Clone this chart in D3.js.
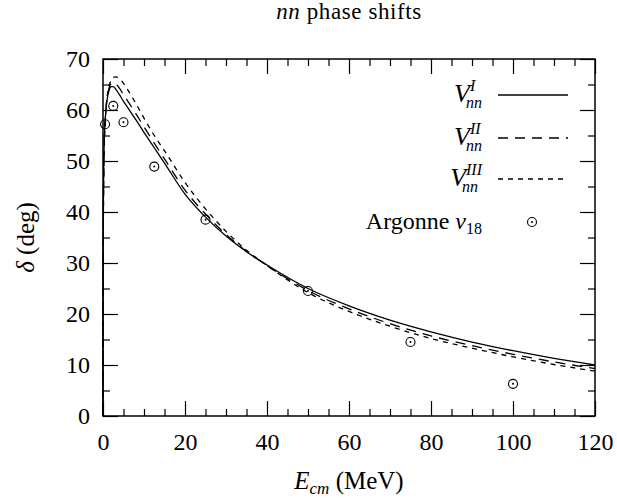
<!DOCTYPE html>
<html>
<head>
<meta charset="utf-8">
<script src="https://cdn.jsdelivr.net/npm/d3@7"></script>
<style>
  body { margin: 0; background: #fff; }
  text { font-family: "Liberation Serif", "DejaVu Serif", serif; fill: #000; }
</style>
</head>
<body>
<div id="chart"></div>
<script>
const energy = [0, 0.02, 0.05, 0.1, 0.2, 0.35, 0.5, 0.75, 1, 1.5, 2, 2.5, 3, 4, 5, 6, 8, 10, 12.5, 15, 20, 25, 30, 35, 40, 50, 60, 70, 80, 90, 100, 110, 120];

// phase shifts (deg)
const vnnI   = [0, 20, 33, 42, 50, 55, 57.5, 60.3, 62, 63.9, 64.6, 64.6, 64.2, 63, 61.7, 60.5, 58.1, 55.6, 52.6, 49.6, 43.5, 39, 35.3, 32.2, 29.6, 25, 21.6, 18.8, 16.5, 14.5, 12.8, 11.3, 10.0];
const vnnII  = [0, 19, 32, 41, 49.5, 55, 57.5, 60.5, 62.3, 64.4, 65.2, 65.4, 65.2, 64.3, 63, 61.8, 59.3, 56.7, 53.5, 50.4, 44.3, 39.6, 35.6, 32.3, 29.5, 24.6, 21, 18.1, 15.7, 13.8, 12.1, 10.6, 9.3];
const vnnIII = [0, 18, 30, 39, 48, 54, 57, 60.5, 62.6, 64.8, 65.9, 66.4, 66.5, 66.2, 65.2, 64, 61.3, 58.4, 55, 52, 45.8, 40.6, 36.2, 32.5, 29.5, 24.2, 20.5, 17.6, 15.2, 13.3, 11.6, 10.1, 8.8];

// Argonne v18 points
const argE     = [0.5, 2.5, 5, 12.5, 25, 50, 75, 100];
const argDelta = [57.2, 60.8, 57.6, 48.9, 38.5, 24.5, 14.5, 6.3];

const xTicks = [0, 20, 40, 60, 80, 100, 120];
const yTicks = [0, 10, 20, 30, 40, 50, 60, 70];
const legendSup = ["I", "II", "III"];

const margin = {top: 59, right: 22, bottom: 84, left: 103},
      W = 617, H = 500,
      width = W - margin.left - margin.right,
      height = H - margin.top - margin.bottom;

const svgRoot = d3.select("#chart").append("svg")
    .attr("width", W)
    .attr("height", H);

const svg = svgRoot.append("g")
    .attr("transform", `translate(${margin.left},${margin.top})`);

const x = d3.scaleLinear().domain([0, 120]).range([0, width]);
const y = d3.scaleLinear().domain([0, 70]).range([height, 0]);

const xMinor = d3.range(0, 121, 5).filter(v => v % 20 !== 0);
const yMinor = d3.range(0, 71, 5).filter(v => v % 10 !== 0);

// axes, ticks pointing inside
function styleAxis(g) {
    g.select(".domain").remove();
    g.selectAll("line").attr("stroke", "#000").attr("stroke-width", 1.2);
    g.selectAll("text").attr("font-size", 24).attr("font-family", "Liberation Serif, serif");
}

svg.append("g").attr("transform", `translate(0,${height})`)
    .call(d3.axisBottom(x).tickValues(xTicks).tickSize(-15).tickPadding(17))
    .call(styleAxis);
svg.append("g").attr("transform", `translate(0,${height})`)
    .call(d3.axisBottom(x).tickValues(xMinor).tickSize(-7).tickFormat(""))
    .call(styleAxis);
svg.append("g")
    .call(d3.axisTop(x).tickValues(xTicks).tickSize(-15).tickFormat(""))
    .call(styleAxis);
svg.append("g")
    .call(d3.axisTop(x).tickValues(xMinor).tickSize(-7).tickFormat(""))
    .call(styleAxis);

svg.append("g")
    .call(d3.axisLeft(y).tickValues(yTicks).tickSize(-15).tickPadding(13))
    .call(styleAxis);
svg.append("g")
    .call(d3.axisLeft(y).tickValues(yMinor).tickSize(-7).tickFormat(""))
    .call(styleAxis);
svg.append("g").attr("transform", `translate(${width},0)`)
    .call(d3.axisRight(y).tickValues(yTicks).tickSize(-15).tickFormat(""))
    .call(styleAxis);
svg.append("g").attr("transform", `translate(${width},0)`)
    .call(d3.axisRight(y).tickValues(yMinor).tickSize(-7).tickFormat(""))
    .call(styleAxis);

// frame
svg.append("rect")
    .attr("width", width)
    .attr("height", height)
    .attr("fill", "none")
    .attr("stroke", "#000")
    .attr("stroke-width", 1.5);

// curves
const series = [
    {values: vnnI, dash: null},
    {values: vnnII, dash: "10,7"},
    {values: vnnIII, dash: "5,5"}
];

const line = d3.line()
    .x(d => x(d[0]))
    .y(d => y(d[1]))
    .curve(d3.curveMonotoneX);

series.forEach(s => {
    svg.append("path")
        .datum(energy.map((e, i) => [e, s.values[i]]))
        .attr("fill", "none")
        .attr("stroke", "#000")
        .attr("stroke-width", 1.3)
        .attr("stroke-dasharray", s.dash)
        .attr("d", line);
});

// Argonne points
function marker(g, cx, cy) {
    g.append("circle").attr("cx", cx).attr("cy", cy).attr("r", 4.5)
        .attr("fill", "none").attr("stroke", "#000").attr("stroke-width", 1.1);
    g.append("circle").attr("cx", cx).attr("cy", cy).attr("r", 1)
        .attr("fill", "#000");
}
argE.forEach((e, i) => marker(svg, x(e), y(argDelta[i])));

// legend
const legRight = 482 - margin.left, lineX0 = 498 - margin.left, lineX1 = 568 - margin.left;
const legY = [95, 138, 179, 222].map(v => v - margin.top);

series.forEach((s, i) => {
    // one text per entry: V, superscript, then subscript pulled back under it
    const t = svg.append("text")
        .attr("y", legY[i] + 7)
        .attr("font-size", 26).attr("font-style", "italic");
    t.append("tspan").text("V");
    const sup = t.append("tspan").attr("font-size", 16).attr("dy", -11).text(legendSup[i]);
    const supW = sup.node().getComputedTextLength();
    const sub = t.append("tspan").attr("font-size", 16).attr("dy", 17)
        .attr("dx", -(supW + 4)).text("nn");
    const subW = sub.node().getComputedTextLength();
    const vW = t.select("tspan").node().getComputedTextLength();
    const right = vW + Math.max(supW, subW - 4);
    t.attr("x", legRight - right);
    svg.append("line")
        .attr("x1", lineX0).attr("x2", lineX1)
        .attr("y1", legY[i]).attr("y2", legY[i])
        .attr("stroke", "#000").attr("stroke-width", 1.3)
        .attr("stroke-dasharray", s.dash);
});

const argText = svg.append("text")
    .attr("x", legRight).attr("y", legY[3] + 7)
    .attr("text-anchor", "end")
    .attr("font-size", 24);
argText.append("tspan").text("Argonne ");
argText.append("tspan").attr("font-style", "italic").text("v");
argText.append("tspan").attr("font-size", 16).attr("dy", 5).text("18");
marker(svg, 532 - margin.left, legY[3]);

// title
const title = svgRoot.append("text")
    .attr("x", margin.left + width / 2).attr("y", 19)
    .attr("text-anchor", "middle")
    .attr("font-size", 23)
    .attr("letter-spacing", 0.6);
title.append("tspan").attr("font-style", "italic").text("nn");
title.append("tspan").text(" phase shifts");

// x label
const xl = svgRoot.append("text")
    .attr("x", margin.left + width / 2).attr("y", 489)
    .attr("text-anchor", "middle")
    .attr("font-size", 25);
xl.append("tspan").attr("font-style", "italic").text("E");
xl.append("tspan").attr("font-style", "italic").attr("font-size", 17).attr("dy", 5).text("cm");
xl.append("tspan").attr("dy", -5).text(" (MeV)");

// y label
const yl = svgRoot.append("text")
    .attr("transform", `translate(34,${margin.top + height / 2}) rotate(-90)`)
    .attr("text-anchor", "middle")
    .attr("font-size", 25);
yl.append("tspan").attr("font-style", "italic").text("δ");
yl.append("tspan").text(" (deg)");
</script>
</body>
</html>
